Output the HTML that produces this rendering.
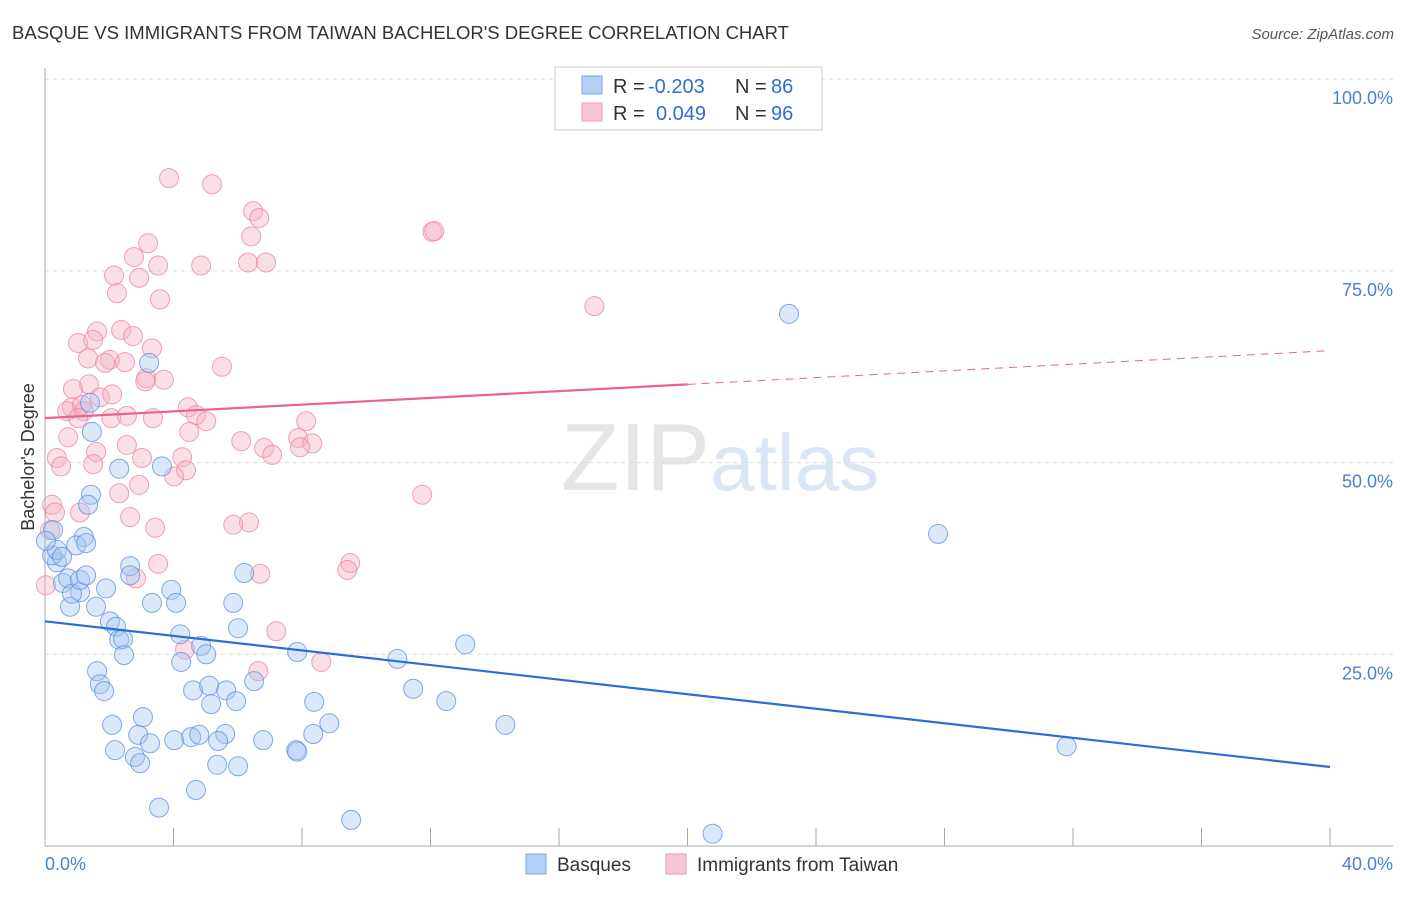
<!DOCTYPE html>
<html><head><meta charset="utf-8">
<style>
body{margin:0;background:#fff;font-family:"Liberation Sans",sans-serif;}
svg text{font-family:"Liberation Sans",sans-serif;}
</style></head>
<body>
<svg id="chart" width="1406" height="892" xmlns="http://www.w3.org/2000/svg">
<text x="12" y="39" font-size="18" fill="#333" textLength="777" lengthAdjust="spacingAndGlyphs">BASQUE VS IMMIGRANTS FROM TAIWAN BACHELOR'S DEGREE CORRELATION CHART</text>
<text x="1394" y="39" font-size="15" fill="#555" text-anchor="end" font-style="italic">Source: ZipAtlas.com</text>
<text x="720" y="490" font-size="96" fill="#e6e6e6" text-anchor="middle" font-family="Liberation Serif"><tspan>ZIP</tspan><tspan fill="#dbe6f5" font-family="Liberation Sans" font-size="80">atlas</tspan></text>
<g id="grid"></g>
<g id="axes"></g>
<g id="pts"></g>
<g id="trend"></g>
<text transform="translate(34,457) rotate(-90)" font-size="18" fill="#333" text-anchor="middle">Bachelor's Degree</text>
<g>
<rect x="555" y="67" width="267" height="63" fill="#fff" stroke="#ccc"/>
<rect x="582" y="76" width="20" height="18" fill="#b5d0f5" stroke="#7aa6e6"/>
<rect x="582" y="103" width="20" height="18" fill="#f8c5d3" stroke="#ec9ab4"/>
<text x="613" y="93" font-size="20" fill="#333">R =</text>
<text x="648" y="93" font-size="20" fill="#2f6fd6">-0.203</text>
<text x="735" y="93" font-size="20" fill="#333">N =</text>
<text x="771" y="93" font-size="20" fill="#2f6fd6">86</text>
<text x="613" y="120" font-size="20" fill="#333">R =</text>
<text x="656" y="120" font-size="20" fill="#2f6fd6">0.049</text>
<text x="735" y="120" font-size="20" fill="#333">N =</text>
<text x="771" y="120" font-size="20" fill="#2f6fd6">96</text>
</g>
<g>
<rect x="526" y="854" width="20" height="20" fill="#b5d0f5" stroke="#7aa6e6"/>
<text x="557" y="871" font-size="19" fill="#333">Basques</text>
<rect x="666" y="854" width="20" height="20" fill="#f8c5d3" stroke="#ec9ab4"/>
<text x="697" y="871" font-size="19" fill="#333">Immigrants from Taiwan</text>
</g>
</svg>
<script>
const xTicks=[0,4,8,12,16,20,24,28,32,36,40];
const yTicks=[25,50,75,100];
const yTickLabels=["25.0%","50.0%","75.0%","100.0%"];
const xEndLabels=["0.0%","40.0%"];
const basqueX=[3.24,23.16,27.8,31.8,20.78,9.53,13.08,10.97,11.46,12.49,14.33,7.85,8.85,8.35,7.82,8.38,6.2,5.86,6.01,4.86,5.02,4.21,3.93,4.08,3.33,2.65,2.65,1.9,1.59,2.02,2.21,2.31,2.43,2.46,1.62,1.71,1.84,2.09,2.18,2.9,3.05,3.27,2.8,2.96,3.55,4.7,4.02,4.55,4.8,4.24,4.61,5.11,5.17,5.64,5.61,5.39,5.36,6.01,5.95,6.51,6.79,1.43,2.31,1.46,1.34,1.21,0.97,1.28,1.09,0.78,0.56,0.72,0.37,0.22,0.37,0.53,0.25,0.03,0.84,1.09,3.64,1.28,7.85,1.4];
const basqueY=[63.0,69.4,40.7,13.0,1.6,3.4,26.3,24.4,20.5,18.9,15.8,25.3,16.0,14.6,12.5,18.8,35.6,31.7,28.4,26.1,25.0,27.6,33.4,31.7,31.7,36.5,35.3,33.6,31.2,29.3,28.6,26.9,27.0,24.9,22.8,21.1,20.2,15.8,12.5,14.5,16.8,13.4,11.6,10.8,5.0,7.3,13.8,14.2,14.5,24.0,20.3,20.9,18.5,20.3,14.6,13.7,10.6,10.4,18.9,21.5,13.8,45.8,49.2,54.0,44.5,40.3,39.2,39.5,33.1,31.2,34.3,34.9,37.0,37.9,38.6,37.7,41.2,39.8,32.9,34.7,49.5,35.3,12.3,57.8];
const taiwanX=[3.86,5.2,6.48,6.67,6.42,12.06,12.12,3.21,2.77,3.52,2.15,2.93,6.32,6.88,4.86,2.24,3.58,17.1,5.51,1.62,2.37,2.74,3.33,1.03,1.5,1.34,2.02,1.87,2.49,3.15,3.12,1.37,0.87,1.71,0.84,0.69,1.15,1.21,2.06,2.55,3.36,4.45,4.7,5.02,8.13,4.49,0.72,2.55,6.11,6.82,7.07,7.88,8.32,7.94,1.59,3.02,4.27,0.37,0.5,1.5,4.39,4.02,2.31,2.93,11.74,0.22,0.31,0.16,2.65,3.43,6.35,5.86,6.7,9.5,9.41,2.83,3.52,7.2,4.36,8.6,6.64,1.03,0.03,2.09,3.7,1.09];
const taiwanY=[87.1,86.3,82.8,81.9,79.5,80.1,80.2,78.6,76.8,75.7,74.4,74.1,76.1,76.1,75.7,72.1,71.3,70.4,62.5,67.1,67.3,66.5,64.9,65.6,66.0,63.6,63.4,63.0,63.1,61.0,60.6,60.2,59.6,58.5,57.2,56.7,57.5,56.7,55.8,56.1,55.8,57.2,56.2,55.4,55.4,54.0,53.3,52.3,52.8,51.9,51.0,53.2,52.5,52.0,51.4,50.6,50.7,50.6,49.5,49.8,49.0,48.2,46.0,47.1,45.8,44.5,43.5,41.2,42.9,41.5,42.2,41.9,35.5,36.9,36.0,34.9,36.8,28.0,25.6,24.0,22.8,55.8,34.0,58.9,60.8,43.5];
const basqueTrend=[29.3,10.3];
const taiwanTrend=[55.8,64.6];
const taiwanSolidEnd=20;

const NS="http://www.w3.org/2000/svg";
const X=v=>45+v/40*1285;
const Y=v=>846-v*7.668;
function mk(tag,attrs,parent){const e=document.createElementNS(NS,tag);for(const k in attrs)e.setAttribute(k,attrs[k]);parent.appendChild(e);return e;}
const grid=document.getElementById('grid'),axes=document.getElementById('axes'),pts=document.getElementById('pts'),trend=document.getElementById('trend');
yTicks.forEach((t,i)=>{
 const l=mk('line',{x1:45,x2:1393,y1:Y(t),y2:Y(t),stroke:'#ddd','stroke-dasharray':'4,4'},grid);
 
 
 const tx=mk('text',{x:1393,y:Y(t)+25,'font-size':18,fill:'#4a80d8','text-anchor':'end'},axes);
 tx.textContent=yTickLabels[i];
 
 
});
const ya=mk('line',{x1:45,x2:45,y1:68,y2:846,stroke:'#aaa'},axes);


const xa=mk('line',{x1:45,x2:1393,y1:846,y2:846,stroke:'#aaa'},axes);


xTicks.forEach(t=>{
 const l=mk('line',{x1:X(t),x2:X(t),y1:828,y2:846,stroke:'#aaa'},axes);
 
 
});
[[0,'start'],[40,'end']].forEach((d,i)=>{
 const tx=mk('text',{x:i?1393:45,y:870,'font-size':18,fill:'#4a80d8','text-anchor':d[1]},axes);
 tx.textContent=xEndLabels[i];
 
 
});
function dots(xs,ys,fill,stroke,name){
 xs.forEach((v,i)=>{
  const c=mk('circle',{cx:X(v),cy:Y(ys[i]),r:9.5,fill:fill,'fill-opacity':0.4,stroke:stroke,'stroke-width':1,'stroke-opacity':0.75},pts);
  
  
 });
}
dots(taiwanX,taiwanY,'#f4b0c4','#e8869f','taiwan-point');
dots(basqueX,basqueY,'#a6c6f2','#5a8fdc','basque-point');
const bl=mk('line',{x1:X(0),y1:Y(basqueTrend[0]),x2:X(40),y2:Y(basqueTrend[1]),stroke:'#2a6fd6','stroke-width':2.2},trend);


const pm=taiwanTrend[0]+(taiwanTrend[1]-taiwanTrend[0])*taiwanSolidEnd/40;
const pl=mk('line',{x1:X(0),y1:Y(taiwanTrend[0]),x2:X(taiwanSolidEnd),y2:Y(pm),stroke:'#e8648f','stroke-width':2.2},trend);


const pd=mk('line',{x1:X(taiwanSolidEnd),y1:Y(pm),x2:X(40),y2:Y(taiwanTrend[1]),stroke:'#e8648f','stroke-width':1,'stroke-dasharray':'8,6'},trend);


</script>
</body></html>
